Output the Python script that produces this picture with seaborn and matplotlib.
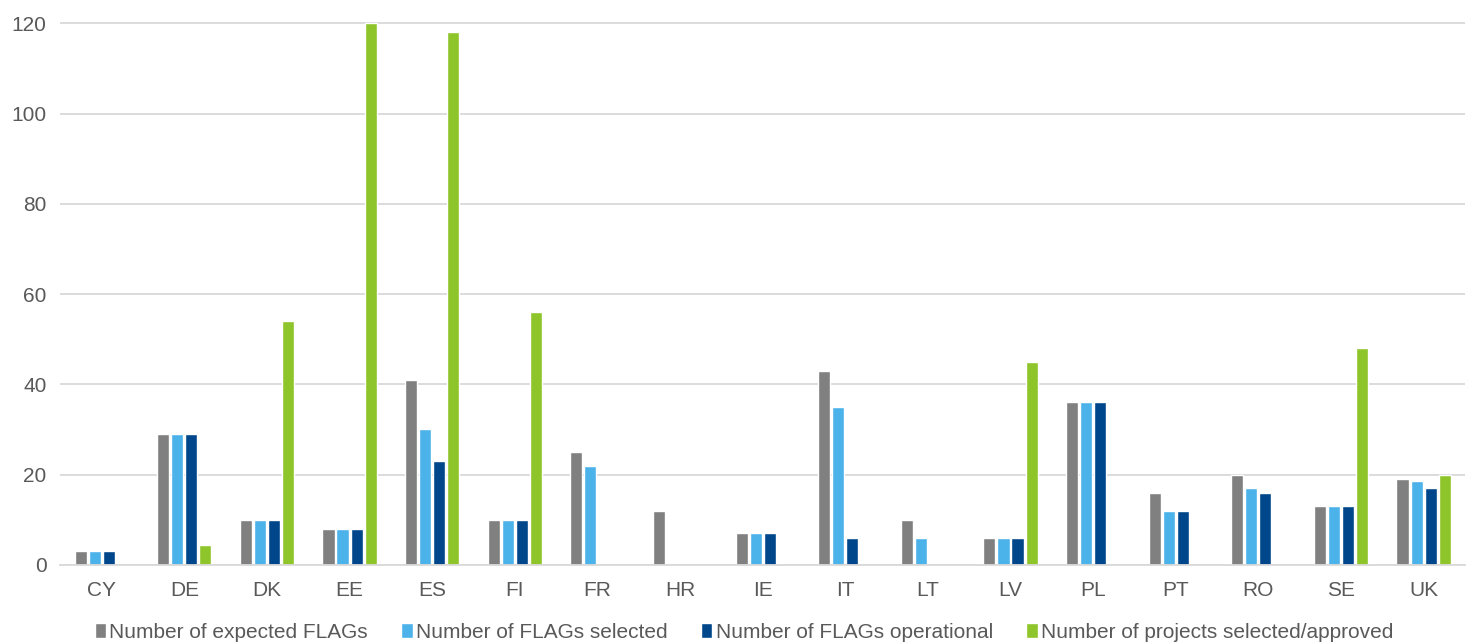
import matplotlib
matplotlib.use("Agg")
import matplotlib.pyplot as plt
import seaborn as sns
import pandas as pd

countries = ["CY", "DE", "DK", "EE", "ES", "FI", "FR", "HR", "IE", "IT", "LT", "LV", "PL", "PT", "RO", "SE", "UK"]
expected = [3, 29, 10, 8, 41, 10, 25, 12, 7, 43, 10, 6, 36, 16, 20, 13, 19]
selected = [3, 29, 10, 8, 30, 10, 22, 0, 7, 35, 6, 6, 36, 12, 17, 13, 18.5]
operational = [3, 29, 10, 8, 23, 10, 0, 0, 7, 6, 0, 6, 36, 12, 16, 13, 17]
projects = [0, 4.3, 54, 120, 118, 56, 0, 0, 0, 0, 0, 45, 0, 0, 0, 48, 20]

series_names = ["Number of expected FLAGs", "Number of FLAGs selected",
                "Number of FLAGs operational", "Number of projects selected/approved"]
colors = ["#808080", "#4BB3EA", "#00468B", "#8DC52A"]

rows = []
for name, vals in zip(series_names, [expected, selected, operational, projects]):
    for c, v in zip(countries, vals):
        rows.append({"country": c, "series": name, "value": v})
df = pd.DataFrame(rows)

sns.set_style("white")
plt.rcParams['font.family'] = ['Liberation Sans', 'DejaVu Sans']

fig = plt.figure(figsize=(14.73, 6.44), dpi=100)
ax = fig.add_axes([0.041, 0.123, 0.9535, 0.843])

sns.barplot(data=df, x="country", y="value", hue="series", palette=colors,
            width=0.68, gap=0.14, ax=ax, saturation=1, legend=True)

ax.set_ylim(0, 120.3)
ax.set_xlim(-0.5, len(countries) - 0.5)
ax.set_yticks(range(0, 121, 20))
ax.yaxis.grid(True, color="#d9d9d9", linewidth=1.3)
ax.set_axisbelow(True)
for s in ["top", "right", "left"]:
    ax.spines[s].set_visible(False)
ax.spines["bottom"].set_color("#d9d9d9")
ax.spines["bottom"].set_linewidth(1.3)
ax.set_xlabel("")
ax.set_ylabel("")
ax.tick_params(axis="both", length=0, labelsize=15, colors="#595959")
ax.tick_params(axis="x", pad=12)
ax.tick_params(axis="y", pad=10)

handles, labels = ax.get_legend_handles_labels()
ax.get_legend().remove()
fig.legend(handles, labels, loc="center", bbox_to_anchor=(744 / 1473, 12 / 644),
           ncol=4, frameon=False, fontsize=15, handlelength=0.55, handleheight=0.75,
           handletextpad=0.15, columnspacing=1.6, labelcolor="#595959",
           borderaxespad=0, borderpad=0)

fig.savefig("out.png", dpi=100)
